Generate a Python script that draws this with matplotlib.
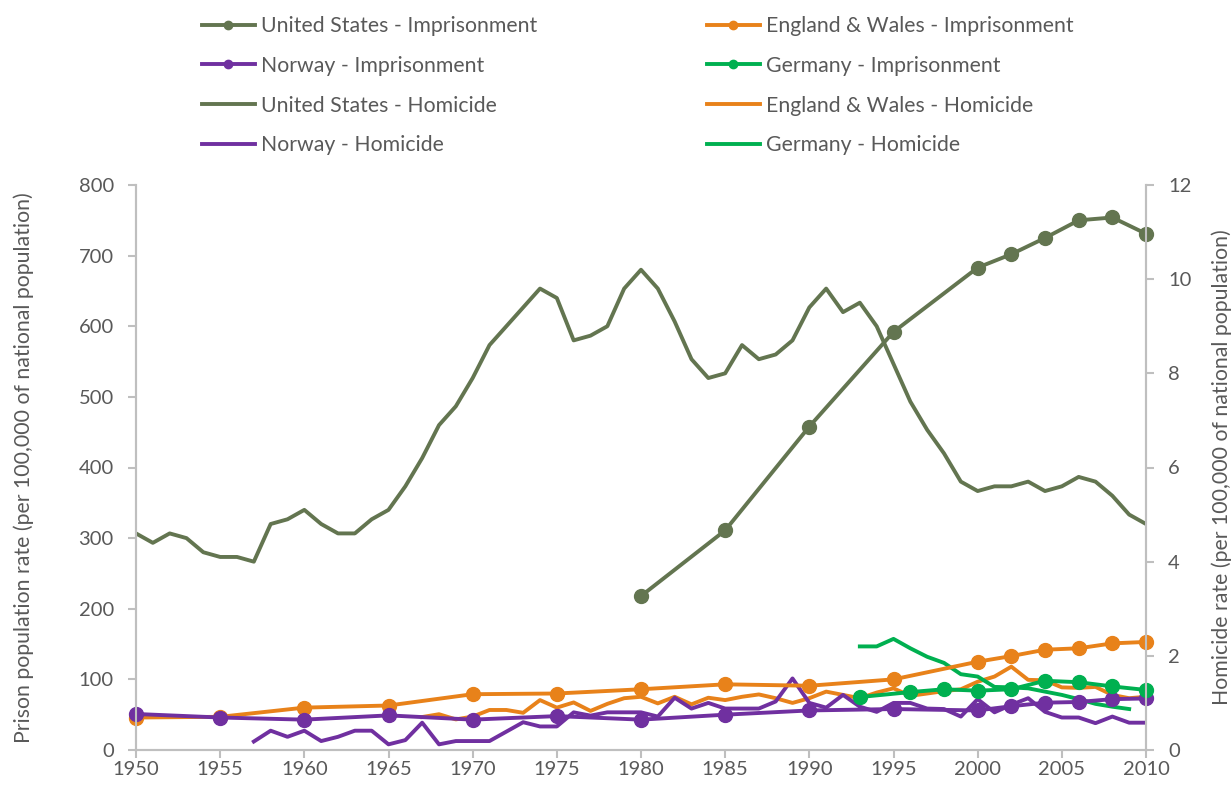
"""Imprisonment vs homicide rates, US / E&W / Norway / Germany."""
import numpy as np
import matplotlib
matplotlib.use('Agg')
import matplotlib.pyplot as plt
from matplotlib.lines import Line2D

plt.rcParams.update({
    'font.family': ['Lato', 'DejaVu Sans'],
    'font.size': 14,
    'text.color': '#595959',
    'xtick.color': '#595959',
    'ytick.color': '#595959',
    'axes.edgecolor': '#BFBFBF',
})

C_US = '#637550'
C_EW = '#E8821A'
C_NO = '#7030A0'
C_DE = '#00B050'

# imprisonment (per 100,000), left axis
us_imp_years = [1980, 1985, 1990, 1995, 2000, 2002, 2004, 2006, 2008, 2010]
us_imp = [218, 311, 458, 592, 683, 702, 725, 750, 754, 731]

ew_no_imp_years = [1950, 1955, 1960, 1965, 1970, 1975, 1980, 1985,
                   1990, 1995, 2000, 2002, 2004, 2006, 2008, 2010]
ew_imp = [46, 47, 60, 63, 79, 80, 86, 93, 91, 100, 125, 133, 142, 144, 151, 153]
no_imp = [51, 46, 43, 49, 43, 48, 43, 50, 56, 58, 56, 62, 67, 68, 72, 73]

de_imp_years = [1993, 1996, 1998, 2000, 2002, 2004, 2006, 2008, 2010]
de_imp = [75, 82, 86, 84, 86, 98, 96, 90, 85]

# homicide (per 100,000), right axis
us_hom_years = list(range(1950, 2011))
us_hom = [4.6, 4.4, 4.6, 4.5, 4.2, 4.1, 4.1, 4.0, 4.8, 4.9,
          5.1, 4.8, 4.6, 4.6, 4.9, 5.1, 5.6, 6.2, 6.9, 7.3,
          7.9, 8.6, 9.0, 9.4, 9.8, 9.6, 8.7, 8.8, 9.0, 9.8,
          10.2, 9.8, 9.1, 8.3, 7.9, 8.0, 8.6, 8.3, 8.4, 8.7,
          9.4, 9.8, 9.3, 9.5, 9.0, 8.2, 7.4, 6.8, 6.3, 5.7,
          5.5, 5.6, 5.6, 5.7, 5.5, 5.6, 5.8, 5.7, 5.4, 5.0,
          4.8]

ew_hom_years = list(range(1967, 2011))
ew_hom = [0.70, 0.76, 0.65, 0.71, 0.85, 0.85, 0.79, 1.06, 0.90, 1.01,
          0.83, 0.98, 1.10, 1.13, 0.99, 1.13, 0.97, 1.11, 1.06, 1.13,
          1.18, 1.10, 1.00, 1.10, 1.24, 1.17, 1.10, 1.22, 1.31, 1.15,
          1.20, 1.25, 1.29, 1.45, 1.56, 1.77, 1.49, 1.48, 1.33, 1.32,
          1.34, 1.17, 1.10, 1.13]

no_hom_years = list(range(1957, 2011))
no_hom = [0.18, 0.41, 0.28, 0.41, 0.19, 0.28, 0.41, 0.41, 0.12, 0.21,
          0.58, 0.12, 0.19, 0.19, 0.19, 0.39, 0.59, 0.50, 0.50, 0.80,
          0.73, 0.80, 0.80, 0.80, 0.71, 1.11, 0.88, 1.00, 0.88, 0.88,
          0.88, 1.03, 1.52, 1.00, 0.90, 1.17, 0.92, 0.81, 1.00, 1.00,
          0.88, 0.87, 0.71, 1.08, 0.80, 0.96, 1.10, 0.81, 0.69, 0.69,
          0.57, 0.71, 0.58, 0.58]

de_hom_years = list(range(1993, 2010))
de_hom = [2.20, 2.20, 2.36, 2.16, 1.98, 1.85, 1.61, 1.56, 1.34, 1.33,
          1.31, 1.24, 1.17, 1.08, 0.98, 0.92, 0.87]

fig = plt.figure(figsize=(12.32, 7.87), dpi=100)
ax1 = fig.add_axes([136 / 1232, 1 - 750 / 787, 1010 / 1232, 565 / 787])
ax2 = ax1.twinx()

lw = 2.8
ms = 10
ax2.plot(us_hom_years, us_hom, color=C_US, lw=lw)
ax2.plot(ew_hom_years, ew_hom, color=C_EW, lw=lw)
ax2.plot(no_hom_years, no_hom, color=C_NO, lw=lw)
ax2.plot(de_hom_years, de_hom, color=C_DE, lw=lw)
for yrs, vals, c in [(us_imp_years, us_imp, C_US), (ew_no_imp_years, ew_imp, C_EW),
                     (ew_no_imp_years, no_imp, C_NO), (de_imp_years, de_imp, C_DE)]:
    ax2.plot(yrs, np.array(vals) * 12 / 800, color=c, lw=lw, marker='o',
             ms=ms, clip_on=False)

ax1.set_xlim(1950, 2010)
ax1.set_ylim(0, 800)
ax2.set_ylim(0, 12)
ax1.set_xticks(range(1950, 2011, 5))
ax1.set_yticks(range(0, 801, 100))
ax2.set_yticks(range(0, 13, 2))

for a in (ax1, ax2):
    a.spines['top'].set_visible(False)
    for s in a.spines.values():
        s.set_linewidth(1.5)
    a.tick_params(length=6, width=1.5, color='#BFBFBF', labelsize=14.5)
ax1.tick_params(axis='y', pad=10)
ax2.tick_params(axis='y', pad=10)
ax1.tick_params(axis='x', pad=2)

ax1.set_ylabel('Prison population rate (per 100,000 of national population)',
               fontsize=15.3, color='#595959', labelpad=32)
ax2.set_ylabel('Homicide rate (per 100,000 of national population)',
               fontsize=15.3, color='#595959', labelpad=14)

def h(c, m):
    return Line2D([], [], color=c, lw=lw, marker='o' if m else None, ms=6)

left = [(h(C_US, 1), 'United States - Imprisonment'), (h(C_NO, 1), 'Norway - Imprisonment'),
        (h(C_US, 0), 'United States - Homicide'), (h(C_NO, 0), 'Norway - Homicide')]
right = [(h(C_EW, 1), 'England & Wales - Imprisonment'), (h(C_DE, 1), 'Germany - Imprisonment'),
         (h(C_EW, 0), 'England & Wales - Homicide'), (h(C_DE, 0), 'Germany - Homicide')]
for items, x0 in [(left, 182.5 / 1232), (right, 687.5 / 1232)]:
    leg = fig.legend([i[0] for i in items], [i[1] for i in items],
                     loc='upper left', bbox_to_anchor=(x0, 1 + 3 / 787),
                     frameon=False, fontsize=15.3, handlelength=2.5,
                     handletextpad=0.28, labelspacing=0.93)
    for t in leg.get_texts():
        t.set_color('#595959')

fig.savefig('out.png', dpi=100, facecolor='white')
plt.close()
